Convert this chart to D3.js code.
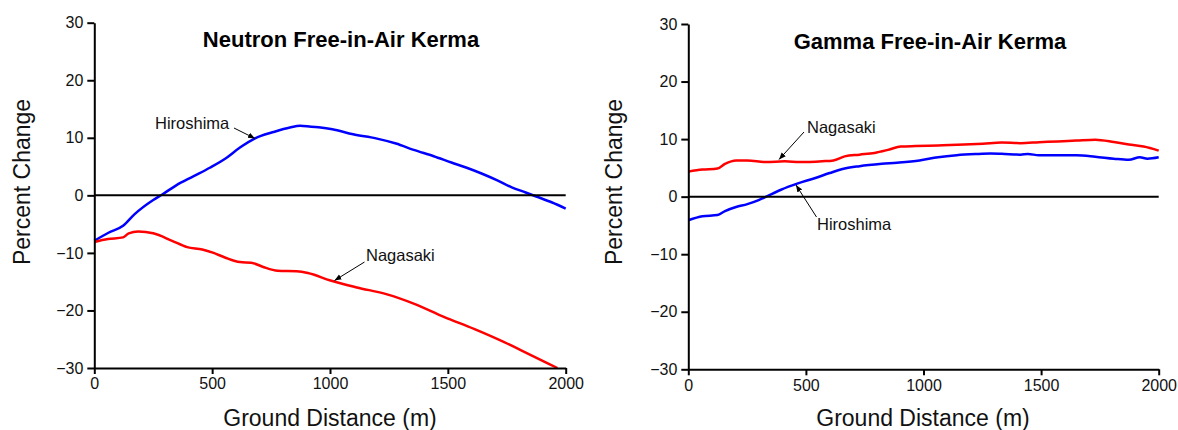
<!DOCTYPE html>
<html>
<head>
<meta charset="utf-8">
<script src="https://cdn.jsdelivr.net/npm/d3@7"></script>
<style>
  body { margin: 0; background: #fff; }
  svg { font-family: "Liberation Sans", Arial, sans-serif; }
  .axis path, .axis line { stroke: #000; stroke-width: 2; }
  .axis text { font-size: 16px; fill: #111; }
</style>
</head>
<body>
<svg id="chart" width="1178" height="430"></svg>
<script>
// distances (m) and percent change
const neutronHiroX = [0, 60, 122, 170, 250, 290, 346, 420, 490, 560, 618, 682, 760, 830, 874, 920, 960, 1010, 1098, 1195, 1280, 1355, 1440, 1515, 1580, 1643, 1710, 1771, 1830, 1875, 1940, 2000];
const neutronHiroY = [-7.9, -6.5, -5.3, -3.3, -0.8, 0.2, 1.7, 3.3, 4.8, 6.5, 8.3, 9.9, 11.0, 11.8, 12.1, 11.9, 11.8, 11.5, 10.6, 9.9, 9.0, 7.9, 6.8, 5.7, 4.8, 3.8, 2.6, 1.4, 0.5, -0.2, -1.2, -2.3];
const neutronNagaX = [0, 58, 122, 146, 186, 250, 330, 394, 458, 506, 554, 618, 666, 714, 778, 858, 906, 1002, 1114, 1242, 1355, 1483, 1611, 1739, 1835, 1900, 1965];
const neutronNagaY = [-8.1, -7.6, -7.3, -6.6, -6.3, -6.6, -7.9, -9.0, -9.4, -10.0, -10.8, -11.6, -11.7, -12.4, -13.1, -13.2, -13.5, -14.8, -16.0, -17.2, -18.8, -21.1, -23.2, -25.5, -27.4, -28.7, -30.0];

const gammaHiroX = [0, 60, 124, 156, 203, 251, 299, 331, 394, 466, 537, 601, 665, 728, 823, 887, 983, 1062, 1141, 1221, 1285, 1332, 1412, 1444, 1491, 1587, 1650, 1730, 1809, 1873, 1920, 1952, 2000];
const gammaHiroY = [-4.1, -3.4, -3.2, -2.5, -1.8, -1.3, -0.6, 0.0, 1.2, 2.3, 3.2, 4.1, 4.9, 5.3, 5.7, 5.9, 6.3, 6.85, 7.2, 7.4, 7.5, 7.45, 7.3, 7.4, 7.2, 7.2, 7.2, 6.95, 6.6, 6.4, 6.85, 6.6, 6.85];
const gammaNagaX = [0, 60, 124, 156, 203, 251, 331, 410, 474, 569, 617, 665, 728, 792, 855, 903, 967, 1062, 1173, 1253, 1332, 1412, 1491, 1571, 1650, 1730, 1809, 1873, 1936, 2000];
const gammaNagaY = [4.35, 4.7, 4.9, 5.7, 6.3, 6.3, 6.0, 6.15, 6.0, 6.15, 6.3, 7.0, 7.3, 7.6, 8.2, 8.7, 8.8, 8.9, 9.05, 9.2, 9.4, 9.3, 9.45, 9.6, 9.75, 9.9, 9.5, 9.05, 8.7, 8.0];

const xTicks = [0, 500, 1000, 1500, 2000];
const yTicks = [-30, -20, -10, 0, 10, 20, 30];
const titles = ["Neutron Free-in-Air Kerma", "Gamma Free-in-Air Kerma"];
const xLabel = "Ground Distance (m)";
const yLabel = "Percent Change";

const zip = (xs, ys) => xs.map((x, i) => [x, ys[i]]);

const panels = [
  {
    left: 94.3, right: 565.7, top: 22.7, bottom: 368,
    title: titles[0], titleX: 341, titleY: 47,
    series: [
      { data: zip(neutronHiroX, neutronHiroY), color: '#0000ff' },
      { data: zip(neutronNagaX, neutronNagaY), color: '#ff0000' }
    ],
    notes: [
      { text: 'Hiroshima', tx: 155, ty: 129, from: [234, 128], to: [255, 138.5] },
      { text: 'Nagasaki', tx: 366, ty: 261, from: [364.5, 262], to: [334.5, 280.5] }
    ],
    yLabelX: 30, xLabelX: 330
  },
  {
    left: 688.3, right: 1158.7, top: 24, bottom: 369.3,
    title: titles[1], titleX: 930, titleY: 49,
    series: [
      { data: zip(gammaHiroX, gammaHiroY), color: '#0000ff' },
      { data: zip(gammaNagaX, gammaNagaY), color: '#ff0000' }
    ],
    notes: [
      { text: 'Nagasaki', tx: 807, ty: 133, from: [804, 132], to: [779, 159.5] },
      { text: 'Hiroshima', tx: 817, ty: 230, from: [816.5, 217], to: [796, 185] }
    ],
    yLabelX: 622, xLabelX: 923
  }
];

const svg = d3.select('#chart');

svg.append('defs').append('marker')
    .attr('id', 'arrow')
    .attr('viewBox', '0 0 10 10')
    .attr('refX', 10)
    .attr('refY', 5)
    .attr('markerWidth', 7)
    .attr('markerHeight', 7)
    .attr('markerUnits', 'userSpaceOnUse')
    .attr('orient', 'auto')
  .append('path')
    .attr('d', 'M0,1 L10,5 L0,9 Z')
    .attr('fill', '#000');

const fmt = d => d < 0 ? '\u2212' + Math.abs(d) : String(d);

panels.forEach(p => {
  const x = d3.scaleLinear().domain([0, 2000]).range([p.left, p.right]);
  const y = d3.scaleLinear().domain([-30, 30]).range([p.bottom, p.top]);

  const g = svg.append('g');

  // curves
  const line = d3.line()
      .x(d => x(d[0]))
      .y(d => y(d[1]))
      .curve(d3.curveMonotoneX);

  p.series.forEach(s => {
    g.append('path')
        .datum(s.data)
        .attr('d', line)
        .attr('fill', 'none')
        .attr('stroke', s.color)
        .attr('stroke-width', 2.5)
        .attr('stroke-linejoin', 'round');
  });

  // zero line
  g.append('line')
      .attr('x1', x(0)).attr('x2', x(2000))
      .attr('y1', y(0)).attr('y2', y(0))
      .attr('stroke', '#000')
      .attr('stroke-width', 2);

  g.append('g')
      .attr('class', 'axis')
      .attr('transform', `translate(0, ${p.bottom})`)
      .call(d3.axisBottom(x).tickValues(xTicks).tickSize(6).tickPadding(4).tickSizeOuter(0).tickFormat(d3.format('d')));

  g.append('g')
      .attr('class', 'axis')
      .attr('transform', `translate(${p.left}, 0)`)
      .call(d3.axisLeft(y).tickValues(yTicks).tickSize(7).tickPadding(4).tickSizeOuter(0).tickFormat(fmt));

  g.append('text')
      .attr('x', p.titleX)
      .attr('y', p.titleY)
      .attr('text-anchor', 'middle')
      .attr('font-size', 22)
      .attr('font-weight', 'bold')
      .text(p.title);

  g.append('text')
      .attr('x', p.xLabelX)
      .attr('y', 426)
      .attr('text-anchor', 'middle')
      .attr('font-size', 23)
      .attr('fill', '#111')
      .text(xLabel);

  g.append('text')
      .attr('transform', `translate(${p.yLabelX}, 182) rotate(-90)`)
      .attr('text-anchor', 'middle')
      .attr('font-size', 23)
      .attr('fill', '#111')
      .text(yLabel);

  p.notes.forEach(n => {
    g.append('text')
        .attr('x', n.tx)
        .attr('y', n.ty)
        .attr('font-size', 16.5)
        .attr('fill', '#111')
        .text(n.text);
    g.append('line')
        .attr('x1', n.from[0]).attr('y1', n.from[1])
        .attr('x2', n.to[0]).attr('y2', n.to[1])
        .attr('stroke', '#000')
        .attr('stroke-width', 1)
        .attr('marker-end', 'url(#arrow)');
  });
});
</script>
</body>
</html>
